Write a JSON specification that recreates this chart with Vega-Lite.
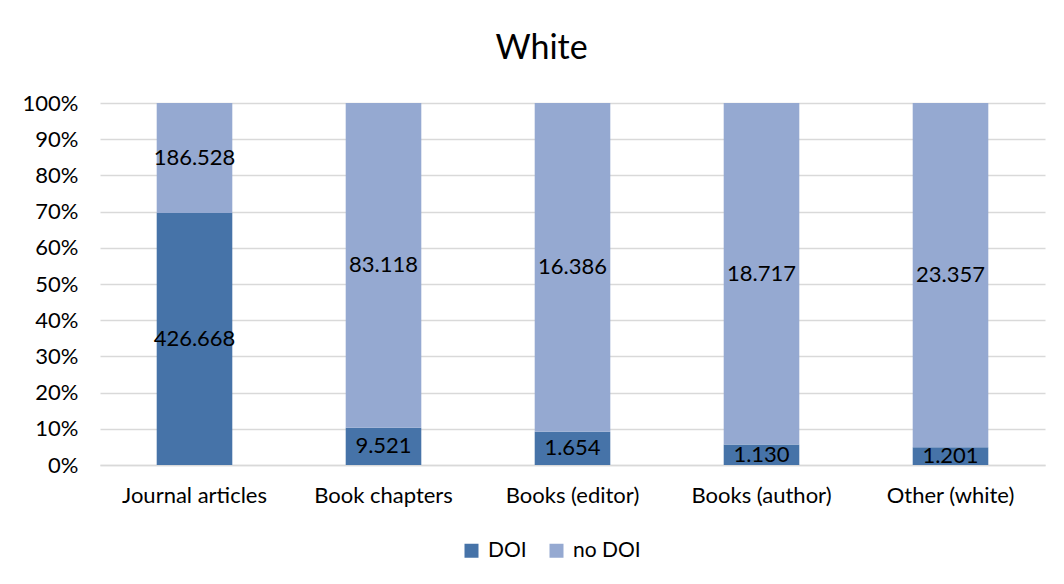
{
  "$schema": "https://vega.github.io/schema/vega-lite/v6.json",
  "autosize": "none",
  "width": 945,
  "height": 362,
  "padding": {"left": 100, "top": 103, "right": 19, "bottom": 119},
  "background": "white",
  "title": {
    "text": "White",
    "fontSize": 34,
    "font": "Lato",
    "fontWeight": "normal",
    "color": "#000000",
    "anchor": "middle",
    "dx": -31,
    "offset": 26
  },
  "data": {
    "values": [
      {"type": "Journal articles", "series": "DOI", "count": 426668},
      {"type": "Journal articles", "series": "no DOI", "count": 186528},
      {"type": "Book chapters", "series": "DOI", "count": 9521},
      {"type": "Book chapters", "series": "no DOI", "count": 83118},
      {"type": "Books (editor)", "series": "DOI", "count": 1654},
      {"type": "Books (editor)", "series": "no DOI", "count": 16386},
      {"type": "Books (author)", "series": "DOI", "count": 1130},
      {"type": "Books (author)", "series": "no DOI", "count": 18717},
      {"type": "Other (white)", "series": "DOI", "count": 1201},
      {"type": "Other (white)", "series": "no DOI", "count": 23357}
    ]
  },
  "transform": [
    {
      "stack": "count",
      "groupby": ["type"],
      "sort": [{"field": "series", "order": "ascending"}],
      "offset": "normalize",
      "as": ["share0", "share1"]
    },
    {"calculate": "(datum.share0 + datum.share1) / 2", "as": "shareMid"}
  ],
  "encoding": {
    "x": {
      "field": "type",
      "type": "nominal",
      "sort": ["Journal articles", "Book chapters", "Books (editor)", "Books (author)", "Other (white)"],
      "scale": {"paddingInner": 0.6, "paddingOuter": 0.3},
      "axis": {
        "title": null,
        "labelAngle": 0,
        "labelFont": "Lato",
        "labelFontSize": 22,
        "labelColor": "#000000",
        "labelPadding": 20,
        "ticks": false,
        "domainColor": "#d9d9d9",
        "domainWidth": 1.5
      }
    }
  },
  "layer": [
    {
      "mark": {"type": "bar"},
      "encoding": {
        "y": {
          "field": "share0",
          "type": "quantitative",
          "scale": {"domain": [0, 1], "nice": false},
          "axis": {
            "title": null,
            "format": ".0%",
            "values": [0, 0.1, 0.2, 0.3, 0.4, 0.5, 0.6, 0.7, 0.8, 0.9, 1],
            "labelFont": "Lato",
            "labelFontSize": 22,
            "labelColor": "#000000",
            "labelPadding": 22,
            "labelOverlap": false,
            "ticks": false,
            "domain": false,
            "grid": true,
            "gridColor": "#d9d9d9",
            "gridWidth": 1.5
          }
        },
        "y2": {"field": "share1"},
        "color": {
          "field": "series",
          "type": "nominal",
          "scale": {"domain": ["DOI", "no DOI"], "range": ["#4673a8", "#95a9d1"]},
          "legend": {
            "title": null,
            "orient": "none",
            "direction": "horizontal",
            "legendX": 361,
            "legendY": 437,
            "padding": 0,
            "symbolType": "square",
            "symbolSize": 196,
            "symbolStrokeWidth": 0,
            "labelFont": "Lato",
            "labelFontSize": 21,
            "labelColor": "#000000",
            "labelOffset": 6,
            "columnPadding": 19
          }
        }
      }
    },
    {
      "mark": {"type": "text", "font": "Lato", "fontSize": 22, "color": "#000000", "baseline": "middle", "align": "center"},
      "encoding": {
        "y": {
          "field": "shareMid",
          "type": "quantitative",
          "scale": {"domain": [0, 1], "nice": false},
          "axis": {
            "title": null,
            "format": ".0%",
            "values": [0, 0.1, 0.2, 0.3, 0.4, 0.5, 0.6, 0.7, 0.8, 0.9, 1],
            "labelFont": "Lato",
            "labelFontSize": 22,
            "labelColor": "#000000",
            "labelPadding": 22,
            "labelOverlap": false,
            "ticks": false,
            "domain": false,
            "grid": true,
            "gridColor": "#d9d9d9",
            "gridWidth": 1.5
          }
        },
        "text": {"field": "count", "type": "quantitative", "format": ",d"}
      }
    }
  ],
  "config": {
    "view": {"stroke": null},
    "locale": {
      "number": {"decimal": ",", "thousands": ".", "grouping": [3], "currency": ["", " €"]}
    }
  }
}
